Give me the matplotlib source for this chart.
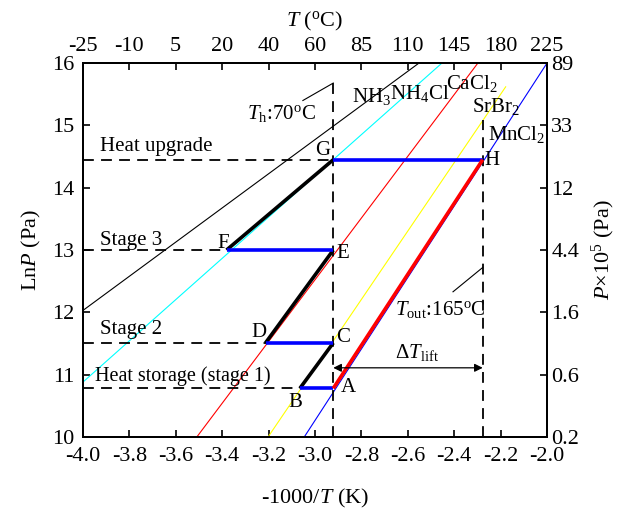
import matplotlib
matplotlib.use('Agg')
import matplotlib.pyplot as plt

plt.rcParams['font.family'] = ['Liberation Serif', 'DejaVu Serif']
plt.rcParams['mathtext.fontset'] = 'custom'
plt.rcParams['mathtext.rm'] = 'Liberation Serif'
plt.rcParams['mathtext.it'] = 'Liberation Serif:italic'
plt.rcParams['mathtext.bf'] = 'Liberation Serif:bold'

# --- 数据: 各工质的 Clapeyron 线 (端点读自原图) ---
nh3_x = [-4.0, -2.552]
nh3_y = [12.03, 16.0]
nh4cl_x = [-4.0, -2.453]
nh4cl_y = [10.88, 16.0]
cacl2_x = [-3.509, -2.298]
cacl2_y = [10.0, 16.0]
srbr2_x = [-3.202, -2.178]
srbr2_y = [10.0, 15.62]
mncl2_x = [-3.046, -2.0]
mncl2_y = [10.0, 16.0]

# 循环状态点
pts = {
    'A': (-2.921, 10.78), 'B': (-3.065, 10.78),
    'C': (-2.921, 11.51), 'D': (-3.213, 11.51),
    'E': (-2.921, 13.0), 'F': (-3.381, 13.0),
    'G': (-2.921, 14.45), 'H': (-2.277, 14.45),
}
black_legs = [('B', 'C'), ('D', 'E'), ('F', 'G')]
blue_legs = [('B', 'A'), ('D', 'C'), ('F', 'E'), ('G', 'H')]
red_legs = [('A', 'H')]
dash_levels = ['G', 'F', 'D', 'B']

th_x = -2.921      # T_h 70 C
tout_x = -2.277    # T_out 165 C
dT_y = 11.11

x_ticks = [-4.0, -3.8, -3.6, -3.4, -3.2, -3.0, -2.8, -2.6, -2.4, -2.2, -2.0]
top_labels = ['-25', '-10', '5', '20', '40', '60', '85', '110', '145', '180', '225']
y_ticks = [10, 11, 12, 13, 14, 15, 16]
right_labels = ['0.2', '0.6', '1.6', '4.4', '12', '33', '89']

FS = 16
fig = plt.figure(figsize=(6.28, 5.09), dpi=100)
ax = fig.add_axes([0.132, 0.1415, 0.739, 0.7345])

thin = 0.8
ax.plot(nh3_x, nh3_y, color='black', lw=thin)
ax.plot(nh4cl_x, nh4cl_y, color='cyan', lw=thin)
ax.plot(cacl2_x, cacl2_y, color='red', lw=thin)
ax.plot(srbr2_x, srbr2_y, color='yellow', lw=thin)
ax.plot(mncl2_x, mncl2_y, color='blue', lw=thin)

dash = dict(color='black', lw=1.3, dashes=(6, 4))
for k in dash_levels:
    ax.plot([-4.0, pts[k][0]], [pts[k][1], pts[k][1]], **dash)
ax.plot([th_x, th_x], [10.0, 15.68], **dash)
ax.plot([tout_x, tout_x], [10.0, 15.09], **dash)

for legs, c in [(black_legs, 'black'), (blue_legs, 'blue'), (red_legs, 'red')]:
    for a, b in legs:
        ax.plot([pts[a][0], pts[b][0]], [pts[a][1], pts[b][1]], color=c, lw=2.6,
                solid_capstyle='butt')

# 点标签
lab_pos = {
    'A': (-2.858, 10.79), 'B': (-3.086, 10.56), 'C': (-2.879, 11.59),
    'D': (-3.241, 11.67), 'E': (-2.879, 12.95), 'F': (-3.397, 13.11),
    'G': (-2.966, 14.60), 'H': (-2.237, 14.44),
}
for k, (x, y) in lab_pos.items():
    ax.text(x, y, k, fontsize=15, ha='center', va='center')

ax.text(-3.927, 14.66, 'Heat upgrade', fontsize=15, va='center')
ax.text(-3.927, 13.16, 'Stage 3', fontsize=15, va='center')
ax.text(-3.927, 11.72, 'Stage 2', fontsize=15, va='center')
ax.text(-3.948, 10.98, 'Heat storage (stage 1)', fontsize=14.5, va='center')

ax.text(-2.84, 15.38, r'NH$_3$', fontsize=15, va='baseline')
ax.text(-2.677, 15.43, r'NH$_4$Cl', fontsize=15, va='baseline')
ax.text(-2.437, 15.59, r'CaCl$_2$', fontsize=15, va='baseline')
ax.text(-2.323, 15.22, r'SrBr$_2$', fontsize=15, va='baseline')
ax.text(-2.254, 14.76, r'MnCl$_2$', fontsize=15, va='baseline')

ax.text(-3.293, 15.10, r'$T_{\rm h}$:70$^{\rm o}$C', fontsize=15, va='baseline')
ax.plot([-3.052, th_x], [15.40, 15.68], color='black', lw=0.8)
ax.text(-2.655, 11.96, r'$T_{\rm out}$:165$^{\rm o}$C', fontsize=15, va='baseline')
ax.plot([-2.405, tout_x], [12.33, 12.72], color='black', lw=0.8)
ax.text(-2.655, 11.27, r'$\Delta T_{\rm lift}$', fontsize=15, va='baseline')
ax.annotate('', xy=(tout_x, dT_y), xytext=(th_x, dT_y),
            arrowprops=dict(arrowstyle='<|-|>', color='black', lw=0.9,
                            mutation_scale=12, shrinkA=0, shrinkB=0))

ax.set_xlim(-4.0, -2.0)
ax.set_ylim(10, 16)
ax.set_xticks(x_ticks)
ax.set_xticklabels(['%.1f' % v for v in x_ticks])
ax.set_yticks(y_ticks)
ax.set_xlabel(r'-1000/$T$ (K)', fontsize=FS, labelpad=15)
ax.set_ylabel(r'Ln$P$ (Pa)', fontsize=FS, labelpad=7)

ax_top = ax.twiny()
ax_top.set_xlim(ax.get_xlim())
ax_top.set_xticks(x_ticks)
ax_top.set_xticklabels(top_labels)
ax_top.set_xlabel(r'$T$ ($^{\rm o}$C)', fontsize=FS, labelpad=8)

ax_r = ax.twinx()
ax_r.set_ylim(ax.get_ylim())
ax_r.set_yticks(y_ticks)
ax_r.set_yticklabels(right_labels)
ax_r.set_ylabel(r'$P$$\times$10$^5$ (Pa)', fontsize=FS, labelpad=8)

for a in (ax, ax_top, ax_r):
    for s in a.spines.values():
        s.set_linewidth(1.3)
ax.tick_params(axis='x', direction='in', length=5, width=1.2, labelsize=FS, pad=7)
ax.tick_params(axis='y', direction='in', length=5, width=1.2, labelsize=FS, pad=6)
ax_top.tick_params(direction='in', length=5, width=1.2, labelsize=FS, pad=5)
ax_r.tick_params(direction='in', length=5, width=1.2, labelsize=FS, pad=3)

fig.savefig('out.png', dpi=100)
